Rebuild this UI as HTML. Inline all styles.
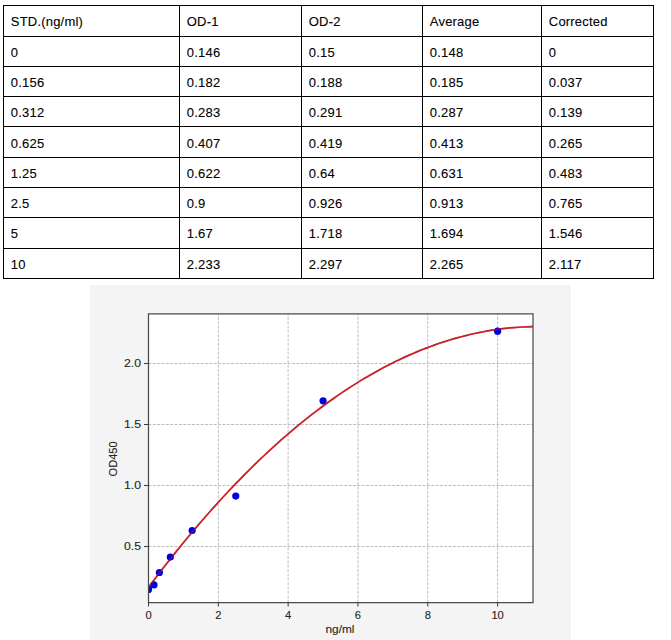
<!DOCTYPE html><html><head><meta charset="utf-8"><style>
html,body{margin:0;padding:0;background:#fff;}
body{width:671px;height:640px;position:relative;overflow:hidden;font-family:"Liberation Sans",sans-serif;}
.l{position:absolute;background:#000;}
.t{position:absolute;font-size:13px;line-height:13px;color:#000;white-space:nowrap;-webkit-text-stroke:0.1px #000;}
</style></head><body>

<div class="l" style="left:3px;top:5px;width:1px;height:274px"></div>
<div class="l" style="left:179px;top:5px;width:1px;height:274px"></div>
<div class="l" style="left:301px;top:5px;width:1px;height:274px"></div>
<div class="l" style="left:422px;top:5px;width:1px;height:274px"></div>
<div class="l" style="left:541px;top:5px;width:1px;height:274px"></div>
<div class="l" style="left:653px;top:5px;width:1px;height:274px"></div>
<div class="l" style="left:3px;top:5px;width:651px;height:1px"></div>
<div class="l" style="left:3px;top:36px;width:651px;height:1px"></div>
<div class="l" style="left:3px;top:66px;width:651px;height:1px"></div>
<div class="l" style="left:3px;top:96px;width:651px;height:1px"></div>
<div class="l" style="left:3px;top:126px;width:651px;height:1px"></div>
<div class="l" style="left:3px;top:157px;width:651px;height:1px"></div>
<div class="l" style="left:3px;top:187px;width:651px;height:1px"></div>
<div class="l" style="left:3px;top:217px;width:651px;height:1px"></div>
<div class="l" style="left:3px;top:248px;width:651px;height:1px"></div>
<div class="l" style="left:3px;top:278px;width:651px;height:1px"></div>
<div class="t" style="left:10.8px;top:14.8px;letter-spacing:0.20px">STD.(ng/ml)</div>
<div class="t" style="left:186.8px;top:14.8px;letter-spacing:0.20px">OD-1</div>
<div class="t" style="left:308.8px;top:14.8px;letter-spacing:0.20px">OD-2</div>
<div class="t" style="left:429.8px;top:14.8px;letter-spacing:0.20px">Average</div>
<div class="t" style="left:548.8px;top:14.8px;letter-spacing:0.20px">Corrected</div>
<div class="t" style="left:10.8px;top:46.0px;letter-spacing:0.20px">0</div>
<div class="t" style="left:186.8px;top:46.0px;letter-spacing:0.20px">0.146</div>
<div class="t" style="left:308.8px;top:46.0px;letter-spacing:0.20px">0.15</div>
<div class="t" style="left:429.8px;top:46.0px;letter-spacing:0.20px">0.148</div>
<div class="t" style="left:548.8px;top:46.0px;letter-spacing:0.20px">0</div>
<div class="t" style="left:10.8px;top:76.0px;letter-spacing:0.20px">0.156</div>
<div class="t" style="left:186.8px;top:76.0px;letter-spacing:0.20px">0.182</div>
<div class="t" style="left:308.8px;top:76.0px;letter-spacing:0.20px">0.188</div>
<div class="t" style="left:429.8px;top:76.0px;letter-spacing:0.20px">0.185</div>
<div class="t" style="left:548.8px;top:76.0px;letter-spacing:0.20px">0.037</div>
<div class="t" style="left:10.8px;top:106.0px;letter-spacing:0.20px">0.312</div>
<div class="t" style="left:186.8px;top:106.0px;letter-spacing:0.20px">0.283</div>
<div class="t" style="left:308.8px;top:106.0px;letter-spacing:0.20px">0.291</div>
<div class="t" style="left:429.8px;top:106.0px;letter-spacing:0.20px">0.287</div>
<div class="t" style="left:548.8px;top:106.0px;letter-spacing:0.20px">0.139</div>
<div class="t" style="left:10.8px;top:137.0px;letter-spacing:0.20px">0.625</div>
<div class="t" style="left:186.8px;top:137.0px;letter-spacing:0.20px">0.407</div>
<div class="t" style="left:308.8px;top:137.0px;letter-spacing:0.20px">0.419</div>
<div class="t" style="left:429.8px;top:137.0px;letter-spacing:0.20px">0.413</div>
<div class="t" style="left:548.8px;top:137.0px;letter-spacing:0.20px">0.265</div>
<div class="t" style="left:10.8px;top:167.0px;letter-spacing:0.20px">1.25</div>
<div class="t" style="left:186.8px;top:167.0px;letter-spacing:0.20px">0.622</div>
<div class="t" style="left:308.8px;top:167.0px;letter-spacing:0.20px">0.64</div>
<div class="t" style="left:429.8px;top:167.0px;letter-spacing:0.20px">0.631</div>
<div class="t" style="left:548.8px;top:167.0px;letter-spacing:0.20px">0.483</div>
<div class="t" style="left:10.8px;top:197.0px;letter-spacing:0.20px">2.5</div>
<div class="t" style="left:186.8px;top:197.0px;letter-spacing:0.20px">0.9</div>
<div class="t" style="left:308.8px;top:197.0px;letter-spacing:0.20px">0.926</div>
<div class="t" style="left:429.8px;top:197.0px;letter-spacing:0.20px">0.913</div>
<div class="t" style="left:548.8px;top:197.0px;letter-spacing:0.20px">0.765</div>
<div class="t" style="left:10.8px;top:226.5px;letter-spacing:0.20px">5</div>
<div class="t" style="left:186.8px;top:226.5px;letter-spacing:0.20px">1.67</div>
<div class="t" style="left:308.8px;top:226.5px;letter-spacing:0.20px">1.718</div>
<div class="t" style="left:429.8px;top:226.5px;letter-spacing:0.20px">1.694</div>
<div class="t" style="left:548.8px;top:226.5px;letter-spacing:0.20px">1.546</div>
<div class="t" style="left:10.8px;top:258.0px;letter-spacing:0.20px">10</div>
<div class="t" style="left:186.8px;top:258.0px;letter-spacing:0.20px">2.233</div>
<div class="t" style="left:308.8px;top:258.0px;letter-spacing:0.20px">2.297</div>
<div class="t" style="left:429.8px;top:258.0px;letter-spacing:0.20px">2.265</div>
<div class="t" style="left:548.8px;top:258.0px;letter-spacing:0.20px">2.117</div>
<svg style="position:absolute;left:0;top:0" width="671" height="640">
<defs><clipPath id="cp"><rect x="148.50" y="313.60" width="384.50" height="288.90"/></clipPath></defs>
<rect x="90" y="285" width="481" height="355" fill="#f4f4f4"/>
<rect x="148.50" y="313.60" width="384.50" height="288.90" fill="#fff"/>
<g clip-path="url(#cp)">
<line x1="218.32" y1="602.50" x2="218.32" y2="313.60" stroke="#bdbdbd" stroke-width="1" stroke-dasharray="2.9,1.45"/>
<line x1="288.14" y1="602.50" x2="288.14" y2="313.60" stroke="#bdbdbd" stroke-width="1" stroke-dasharray="2.9,1.45"/>
<line x1="357.96" y1="602.50" x2="357.96" y2="313.60" stroke="#bdbdbd" stroke-width="1" stroke-dasharray="2.9,1.45"/>
<line x1="427.78" y1="602.50" x2="427.78" y2="313.60" stroke="#bdbdbd" stroke-width="1" stroke-dasharray="2.9,1.45"/>
<line x1="497.60" y1="602.50" x2="497.60" y2="313.60" stroke="#bdbdbd" stroke-width="1" stroke-dasharray="2.9,1.45"/>
<line x1="148.50" y1="546.50" x2="533.00" y2="546.50" stroke="#bdbdbd" stroke-width="1" stroke-dasharray="2.9,1.45"/>
<line x1="148.50" y1="485.50" x2="533.00" y2="485.50" stroke="#bdbdbd" stroke-width="1" stroke-dasharray="2.9,1.45"/>
<line x1="148.50" y1="424.50" x2="533.00" y2="424.50" stroke="#bdbdbd" stroke-width="1" stroke-dasharray="2.9,1.45"/>
<line x1="148.50" y1="363.50" x2="533.00" y2="363.50" stroke="#bdbdbd" stroke-width="1" stroke-dasharray="2.9,1.45"/>
<path d="M145.01,592.06 L149.40,586.15 L153.80,580.32 L158.19,574.55 L162.58,568.85 L166.97,563.21 L171.37,557.64 L175.76,552.14 L180.15,546.70 L184.55,541.33 L188.94,536.03 L193.33,530.79 L197.73,525.62 L202.12,520.51 L206.51,515.47 L210.91,510.50 L215.30,505.59 L219.69,500.75 L224.09,495.98 L228.48,491.27 L232.87,486.63 L237.27,482.06 L241.66,477.55 L246.05,473.11 L250.45,468.73 L254.84,464.42 L259.23,460.18 L263.62,456.00 L268.02,451.89 L272.41,447.85 L276.80,443.87 L281.20,439.96 L285.59,436.11 L289.98,432.33 L294.38,428.62 L298.77,424.97 L303.16,421.39 L307.56,417.88 L311.95,414.43 L316.34,411.05 L320.74,407.74 L325.13,404.49 L329.52,401.31 L333.92,398.19 L338.31,395.14 L342.70,392.16 L347.09,389.24 L351.49,386.39 L355.88,383.61 L360.27,380.89 L364.67,378.24 L369.06,375.66 L373.45,373.14 L377.85,370.69 L382.24,368.30 L386.63,365.98 L391.03,363.73 L395.42,361.54 L399.81,359.42 L404.21,357.37 L408.60,355.38 L412.99,353.46 L417.39,351.60 L421.78,349.81 L426.17,348.09 L430.56,346.43 L434.96,344.84 L439.35,343.32 L443.74,341.86 L448.14,340.47 L452.53,339.15 L456.92,337.89 L461.32,336.70 L465.71,335.57 L470.10,334.51 L474.50,333.52 L478.89,332.59 L483.28,331.73 L487.68,330.94 L492.07,330.21 L496.46,329.55 L500.86,328.96 L505.25,328.43 L509.64,327.97 L514.04,327.57 L518.43,327.24 L522.82,326.98 L527.21,326.78 L531.61,326.65 L536.00,326.59" fill="none" stroke="#c82228" stroke-width="1.7"/>
<g fill="#0000e0">
<circle cx="148.50" cy="589.44" r="3.6"/>
<circle cx="153.95" cy="584.93" r="3.6"/>
<circle cx="159.39" cy="572.49" r="3.6"/>
<circle cx="170.32" cy="557.11" r="3.6"/>
<circle cx="192.14" cy="530.52" r="3.6"/>
<circle cx="235.77" cy="496.11" r="3.6"/>
<circle cx="323.05" cy="400.83" r="3.6"/>
<circle cx="497.60" cy="331.17" r="3.6"/>
</g>
<path d="M145.01,592.06 L149.40,586.15 L153.80,580.32 L158.19,574.55 L162.58,568.85 L166.97,563.21 L171.37,557.64 L175.76,552.14 L180.15,546.70 L184.55,541.33 L188.94,536.03 L193.33,530.79 L197.73,525.62 L202.12,520.51 L206.51,515.47 L210.91,510.50 L215.30,505.59 L219.69,500.75 L224.09,495.98 L228.48,491.27 L232.87,486.63 L237.27,482.06 L241.66,477.55 L246.05,473.11 L250.45,468.73 L254.84,464.42 L259.23,460.18 L263.62,456.00 L268.02,451.89 L272.41,447.85 L276.80,443.87 L281.20,439.96 L285.59,436.11 L289.98,432.33 L294.38,428.62 L298.77,424.97 L303.16,421.39 L307.56,417.88 L311.95,414.43 L316.34,411.05 L320.74,407.74 L325.13,404.49 L329.52,401.31 L333.92,398.19 L338.31,395.14 L342.70,392.16 L347.09,389.24 L351.49,386.39 L355.88,383.61 L360.27,380.89 L364.67,378.24 L369.06,375.66 L373.45,373.14 L377.85,370.69 L382.24,368.30 L386.63,365.98 L391.03,363.73 L395.42,361.54 L399.81,359.42 L404.21,357.37 L408.60,355.38 L412.99,353.46 L417.39,351.60 L421.78,349.81 L426.17,348.09 L430.56,346.43 L434.96,344.84 L439.35,343.32 L443.74,341.86 L448.14,340.47 L452.53,339.15 L456.92,337.89 L461.32,336.70 L465.71,335.57 L470.10,334.51 L474.50,333.52 L478.89,332.59 L483.28,331.73 L487.68,330.94 L492.07,330.21 L496.46,329.55 L500.86,328.96 L505.25,328.43 L509.64,327.97 L514.04,327.57 L518.43,327.24 L522.82,326.98 L527.21,326.78 L531.61,326.65 L536.00,326.59" fill="none" stroke="#c82228" stroke-width="1.7" opacity="0.4"/>
</g>
<path d="M148.5,313.9 H533.0 V602.5 H148.5 Z" fill="none" stroke="#4a4a4a" stroke-width="1.25"/>
<line x1="148.50" y1="602.50" x2="148.50" y2="606.50" stroke="#3a3a3a" stroke-width="1"/>
<text x="148.50" y="619" font-size="11" text-anchor="middle" fill="#262626" stroke="#262626" stroke-width="0.12" textLength="6.2" lengthAdjust="spacingAndGlyphs">0</text>
<line x1="218.32" y1="602.50" x2="218.32" y2="606.50" stroke="#3a3a3a" stroke-width="1"/>
<text x="218.32" y="619" font-size="11" text-anchor="middle" fill="#262626" stroke="#262626" stroke-width="0.12" textLength="6.2" lengthAdjust="spacingAndGlyphs">2</text>
<line x1="288.14" y1="602.50" x2="288.14" y2="606.50" stroke="#3a3a3a" stroke-width="1"/>
<text x="288.14" y="619" font-size="11" text-anchor="middle" fill="#262626" stroke="#262626" stroke-width="0.12" textLength="6.2" lengthAdjust="spacingAndGlyphs">4</text>
<line x1="357.96" y1="602.50" x2="357.96" y2="606.50" stroke="#3a3a3a" stroke-width="1"/>
<text x="357.96" y="619" font-size="11" text-anchor="middle" fill="#262626" stroke="#262626" stroke-width="0.12" textLength="6.2" lengthAdjust="spacingAndGlyphs">6</text>
<line x1="427.78" y1="602.50" x2="427.78" y2="606.50" stroke="#3a3a3a" stroke-width="1"/>
<text x="427.78" y="619" font-size="11" text-anchor="middle" fill="#262626" stroke="#262626" stroke-width="0.12" textLength="6.2" lengthAdjust="spacingAndGlyphs">8</text>
<line x1="497.60" y1="602.50" x2="497.60" y2="606.50" stroke="#3a3a3a" stroke-width="1"/>
<text x="497.60" y="619" font-size="11" text-anchor="middle" fill="#262626" stroke="#262626" stroke-width="0.12" textLength="12.4" lengthAdjust="spacingAndGlyphs">10</text>
<line x1="144" y1="546.50" x2="148.50" y2="546.50" stroke="#3a3a3a" stroke-width="1"/>
<text x="141" y="550.40" font-size="11" text-anchor="end" fill="#262626" stroke="#262626" stroke-width="0.12" textLength="17" lengthAdjust="spacingAndGlyphs">0.5</text>
<line x1="144" y1="485.50" x2="148.50" y2="485.50" stroke="#3a3a3a" stroke-width="1"/>
<text x="141" y="489.40" font-size="11" text-anchor="end" fill="#262626" stroke="#262626" stroke-width="0.12" textLength="17" lengthAdjust="spacingAndGlyphs">1.0</text>
<line x1="144" y1="424.50" x2="148.50" y2="424.50" stroke="#3a3a3a" stroke-width="1"/>
<text x="141" y="428.40" font-size="11" text-anchor="end" fill="#262626" stroke="#262626" stroke-width="0.12" textLength="17" lengthAdjust="spacingAndGlyphs">1.5</text>
<line x1="144" y1="363.50" x2="148.50" y2="363.50" stroke="#3a3a3a" stroke-width="1"/>
<text x="141" y="367.40" font-size="11" text-anchor="end" fill="#262626" stroke="#262626" stroke-width="0.12" textLength="17" lengthAdjust="spacingAndGlyphs">2.0</text>
<text x="340" y="633" font-size="11" text-anchor="middle" fill="#262626" stroke="#262626" stroke-width="0.12" textLength="29" lengthAdjust="spacingAndGlyphs">ng/ml</text>
<text transform="translate(116.9,458.9) rotate(-90)" x="0" y="0" font-size="11" text-anchor="middle" fill="#262626" stroke="#262626" stroke-width="0.12" textLength="35" lengthAdjust="spacingAndGlyphs">OD450</text>
</svg>
</body></html>
